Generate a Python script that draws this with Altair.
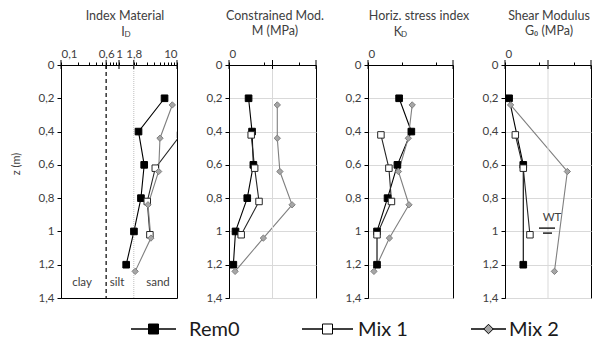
import json
import altair as alt
import pandas as pd

# ---------------- data ----------------
series = ["Rem0", "Mix 1", "Mix 2"]

z_rem0 = [0.2, 0.4, 0.6, 0.8, 1.0, 1.2]
z_mix1 = [0.42, 0.62, 0.82, 1.02]
z_mix2 = [0.24, 0.44, 0.64, 0.84, 1.04, 1.24]

# Index material I_D
id_rem0 = [6.1, 2.17, 2.72, 2.39, 1.81, 1.33]
id_mix1 = [11.5, 4.22, 3.07, 3.41]
id_mix2 = [8.3, 5.09, 4.82, 3.16, 3.55, 1.9]

# Constrained modulus M (MPa)
m_rem0 = [45, 53, 56, 42, 15, 10]
m_mix1 = [51, 59, 69, 28]
m_mix2 = [111, 111, 117, 145, 79, 14]

# Horizontal stress index K_D
kd_rem0 = [18.3, 25.5, 17.3, 11.5, 5.3, 5.3]
kd_mix1 = [7.6, 12.3, 13.8, 5.3]
kd_mix2 = [26.0, 23.7, 17.9, 24.1, 12.6, 3.5]

# Shear modulus G0 (MPa)
g0_z_rem0 = [0.2, 0.6, 1.2]
g0_rem0 = [19, 85, 85]
g0_z_mix1 = [0.42, 0.62, 1.02]
g0_mix1 = [48, 85, 116]
g0_z_mix2 = [0.24, 0.64, 1.24]
g0_mix2 = [26, 290, 230]

soil_bounds = [0.6, 1.8]
soil_names = ["clay", "silt", "sand"]
wt_depth = 0.98

z_ticks = [0, 0.2, 0.4, 0.6, 0.8, 1, 1.2, 1.4]

id_ticks = [0.1, 0.2, 0.3, 0.4, 0.5, 0.6, 0.7, 0.8, 0.9, 1, 1.8, 2, 3, 4, 5, 6, 7, 8, 9, 10]
id_labels = [0.1, 0.6, 1, 1.8, 10]
m_ticks = list(range(0, 201, 20)); m_labels = [0, 100, 200]
kd_ticks = list(range(0, 51, 10)); kd_labels = [0, 50]
g0_ticks = list(range(0, 401, 40)); g0_labels = [0, 200, 400]

legend_labels = ["Rem0", "Mix 1", "Mix 2"]

FONT = "Lato"
TXT = "#404040"


def long(parts):
    rows = []
    for s, zs, vs in parts:
        for z, v in zip(zs, vs):
            rows.append({"series": s, "z": z, "v": v})
    return pd.DataFrame(rows)


df_id = long([(series[0], z_rem0, id_rem0), (series[1], z_mix1, id_mix1), (series[2], z_mix2, id_mix2)])
df_m = long([(series[0], z_rem0, m_rem0), (series[1], z_mix1, m_mix1), (series[2], z_mix2, m_mix2)])
df_kd = long([(series[0], z_rem0, kd_rem0), (series[1], z_mix1, kd_mix1), (series[2], z_mix2, kd_mix2)])
df_g0 = long([(series[0], g0_z_rem0, g0_rem0), (series[1], g0_z_mix1, g0_mix1), (series[2], g0_z_mix2, g0_mix2)])

H = 233


def y_enc(ygrid):
    return alt.Y(
        "z:Q",
        scale=alt.Scale(domain=[0, 1.4], reverse=True, nice=False),
        axis=alt.Axis(values=z_ticks, labelExpr="replace(format(datum.value, '.1~f'), '.', ',')",
                      title=None, tickSize=4, labelPadding=3, grid=ygrid, gridColor="#d9d9d9",
                      labelOverlap=False),
    )


def text_layer(txt, x, y, size=12.5, angle=0, color=TXT, align="center"):
    return alt.Chart(pd.DataFrame({"t": [txt]})).mark_text(
        font=FONT, fontSize=size, color=color, angle=angle, align=align, baseline="middle"
    ).encode(x=alt.value(x), y=alt.value(y), text="t:N")


def make_panel(df, xdomain, xtype, ticks, labels, width, ygrid, before=(), after=()):
    label_expr = (
        f"indexof({json.dumps(labels)}, datum.value) >= 0 ? "
        "replace(toString(datum.value), '.', ',') : ''"
    )
    x = alt.X(
        "v:Q",
        scale=alt.Scale(type=xtype, domain=xdomain, nice=False),
        axis=alt.Axis(orient="top", values=ticks, labelExpr=label_expr, title=None,
                      grid=False, tickSize=3, labelPadding=3, labelOverlap=False),
    )
    base = alt.Chart(df).encode(x=x, y=y_enc(ygrid))
    lines = base.mark_line(clip=True, strokeWidth=1.1).encode(
        order="z:Q",
        detail="series:N",
        color=alt.Color("series:N", scale=alt.Scale(domain=series, range=["#000000", "#262626", "#7f7f7f"]), legend=None),
    )
    pts = base.mark_point(clip=True, opacity=1, strokeWidth=1).encode(
        shape=alt.Shape("series:N", scale=alt.Scale(domain=series, range=["square", "square", "diamond"]), legend=None),
        fill=alt.Fill("series:N", scale=alt.Scale(domain=series, range=["#000000", "#ffffff", "#a6a6a6"]), legend=None),
        stroke=alt.Stroke("series:N", scale=alt.Scale(domain=series, range=["#000000", "#262626", "#7f7f7f"]), legend=None),
        size=alt.Size("series:N", scale=alt.Scale(domain=series, range=[44, 40, 22]), legend=None),
    )
    maj = alt.Chart(pd.DataFrame({"v": labels})).mark_rule(color="black").encode(
        x="v:Q", y=alt.value(-5), y2=alt.value(4)
    )
    layers = [lines] + list(before) + [pts, maj] + list(after)
    return alt.layer(*layers).properties(width=width, height=H, view=alt.ViewBackground(stroke="black"))


# ---- panel 1 ----
one = pd.DataFrame({"d": [0]})
p1_before = [
    alt.Chart(one).mark_rule(color="black", strokeDash=[4, 3], strokeWidth=1.2).encode(x=alt.datum(soil_bounds[0])),
    alt.Chart(one).mark_rule(color="#bfbfbf", strokeDash=[1, 1], strokeWidth=1).encode(x=alt.datum(soil_bounds[1])),
]
p1_after = [
    text_layer("Index Material", 64, -49),
    text_layer("I", 62, -33),
    text_layer("D", 66.5, -30, size=8),
    text_layer("z (m)", -44, 99, size=11, angle=270),
    text_layer(soil_names[0], 21, 218, size=11.5),
    text_layer(soil_names[1], 56, 218, size=11.5),
    text_layer(soil_names[2], 97, 218, size=11.5),
]
p1 = make_panel(df_id, [0.1, 10], "log", id_ticks, id_labels, 116, False, p1_before, p1_after)

# ---- panel 2 ----
p2_before = [alt.Chart(pd.DataFrame({"v": [m_labels[1]]})).mark_rule(color="#d9d9d9").encode(x="v:Q")]
p2_after = [text_layer("Constrained Mod.", 46, -49), text_layer("M (MPa)", 46, -34)]
p2 = make_panel(df_m, [0, 200], "linear", m_ticks, m_labels, 87, True, p2_before, p2_after)

# ---- panel 3 ----
p3_after = [
    text_layer("Horiz. stress index", 51, -49),
    text_layer("K", 30, -33),
    text_layer("D", 36, -30, size=8),
]
p3 = make_panel(df_kd, [0, 50], "linear", kd_ticks, kd_labels, 85, True, (), p3_after)

# ---- panel 4 ----
wt = pd.DataFrame({"z": [wt_depth]})
p4_before = [alt.Chart(pd.DataFrame({"v": [g0_labels[1]]})).mark_rule(color="#d9d9d9").encode(x="v:Q")]
p4_after = [
    text_layer("Shear Modulus", 44, -49),
    text_layer("G₀ (MPa)", 44, -34),
    alt.Chart(wt).mark_rule(color="black", strokeWidth=1.3).encode(y=y_enc(True), x=alt.value(34), x2=alt.value(50)),
    alt.Chart(wt).mark_rule(color="black", strokeWidth=1.3, yOffset=5).encode(y=y_enc(True), x=alt.value(38), x2=alt.value(47)),
    alt.Chart(wt).mark_text(font=FONT, fontSize=11.5, color=TXT, dy=-10).encode(y=y_enc(True), x=alt.value(47), text=alt.value("WT")),
]
p4 = make_panel(df_g0, [0, 400], "linear", g0_ticks, g0_labels, 86, True, p4_before, p4_after)

# ---- legend (drawn in a small view under panel 1, overflowing to the right) ----
leg_center = [92.5, 266.5, 427.5]
leg_half = [22.5, 25.5, 17.5]
leg_label_x = [128, 297, 448]
leg_shape = ["square", "square", "diamond"]
leg_fill = ["#000000", "#ffffff", "#a6a6a6"]
leg_size = [100, 100, 90]
leg_layers = []
for i, name in enumerate(legend_labels):
    d = pd.DataFrame({"s": [name]})
    leg_layers.append(alt.Chart(d).mark_rule(color="black", strokeWidth=1.3).encode(
        x=alt.value(leg_center[i] - leg_half[i]), x2=alt.value(leg_center[i] + leg_half[i]), y=alt.value(10)))
    leg_layers.append(alt.Chart(d).mark_point(shape=leg_shape[i], fill=leg_fill[i], stroke="black",
                                               strokeWidth=1, opacity=1, size=leg_size[i]).encode(
        x=alt.value(leg_center[i]), y=alt.value(10)))
    leg_layers.append(alt.Chart(d).mark_text(font=FONT, fontSize=20, color="#1a1a1a", align="left",
                                              baseline="middle").encode(
        x=alt.value(leg_label_x[i]), y=alt.value(11), text="s:N"))
legend = alt.layer(*leg_layers).properties(width=116, height=20,
                                           view=alt.ViewBackground(stroke="transparent"))

chart = alt.concat(
    p1, p2, p3, p4, legend, columns=4, bounds="flush",
    spacing=alt.RowColnumber(row=21, column=52),
).properties(
    padding={"left": 10, "top": 9, "right": 0, "bottom": 0}
).configure_axis(
    labelFont=FONT, labelFontSize=11.5, labelColor=TXT, domainColor="black", tickColor="black",
).configure_view(stroke="black")

chart.save("out.html", embed_options={"renderer": "svg", "actions": False})
